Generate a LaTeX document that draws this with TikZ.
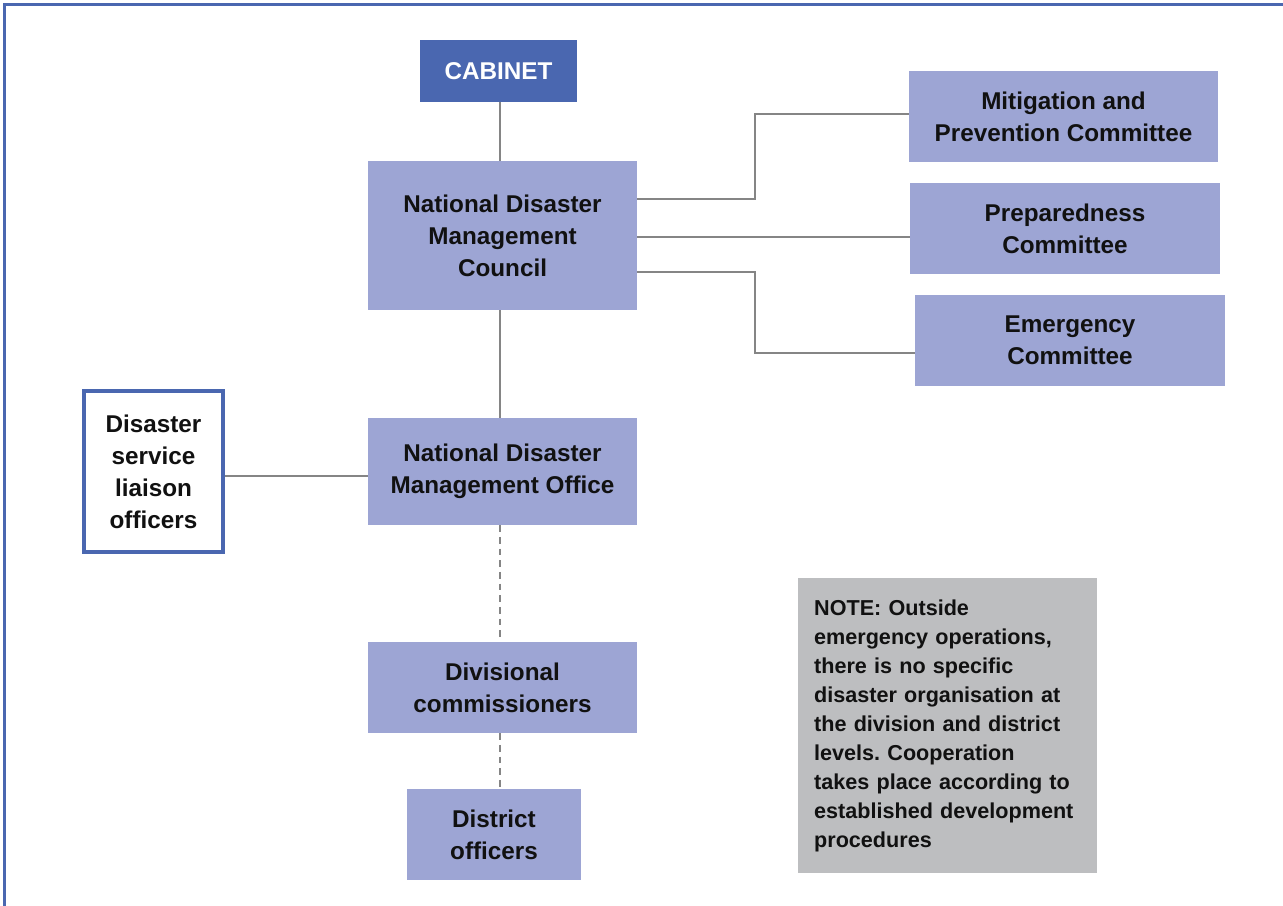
\documentclass[tikz,border=0pt]{standalone}
\usepackage{fontspec}
\setmainfont{Liberation Sans}
\usetikzlibrary{calc}
\definecolor{darkblue}{HTML}{4A67B0}
\definecolor{lightblue}{HTML}{9DA5D4}
\definecolor{notegray}{HTML}{BDBEC0}
\definecolor{linegray}{HTML}{858585}
\definecolor{txt}{HTML}{111111}
\frenchspacing
\tikzset{
  box/.style={fill=lightblue, draw=none, text=txt, align=center, inner sep=0pt,
    font=\fontsize{18.2}{24}\selectfont\bfseries},
  topbox/.style={fill=darkblue, draw=none, text=white, align=center, inner sep=0pt,
    font=\fontsize{18.2}{24}\selectfont\bfseries},
  outlinebox/.style={fill=white, draw=darkblue, line width=3pt, text=txt, align=center, inner sep=0pt,
    font=\fontsize{18.2}{24}\selectfont\bfseries},
  notebox/.style={fill=notegray, draw=none, text=txt, align=left, inner sep=0pt,
    font=\fontsize{16.2}{21.75}\selectfont\bfseries},
  conn/.style={draw=linegray, line width=1.5pt},
  dconn/.style={draw=linegray, line width=1.5pt, dash pattern=on 5pt off 3.75pt},
  frame/.style={draw=darkblue, line width=2.25pt}
}
\begin{document}
\begin{tikzpicture}[x=0.75pt,y=-0.75pt]
\useasboundingbox (0,0) rectangle (1283,906);
\draw[frame] (4.8,906) -- (4.8,4.8) -- (1283,4.8);

\node[topbox, minimum width=117.75pt, minimum height=46.5pt] (cab) at (498.5,71) {CABINET};
\node[box, minimum width=201.75pt, minimum height=111.75pt] (ndmc) at (502.5,235.5) {National Disaster\\Management\\Council};
\node[box, minimum width=231.75pt, minimum height=68.25pt] (mit) at (1063.5,116.5) {Mitigation and\\Prevention Committee};
\node[box, minimum width=232.5pt, minimum height=68.25pt] (prep) at (1065,228.5) {Preparedness\\Committee};
\node[box, minimum width=232.5pt, minimum height=68.25pt] (emer) at (1070,340.5) {Emergency\\Committee};
\node[box, minimum width=201.75pt, minimum height=80.25pt] (ndmo) at (502.5,471.5) {National Disaster\\Management Office};
\node[outlinebox, minimum width=104.25pt, minimum height=120.75pt] (lia) at (153.5,471.5) {Disaster\\service\\liaison\\officers};
\node[box, minimum width=201.75pt, minimum height=68.25pt] (div) at (502.5,687.5) {Divisional\\commissioners};
\node[box, minimum width=130.5pt, minimum height=68.25pt] (dist) at (494,834.5) {District\\officers};
\node[notebox, minimum width=224.25pt, minimum height=221.25pt, text width=200pt] (note) at (947.5,725.5)
  {NOTE: Outside\\emergency operations,\\there is no specific\\disaster organisation at\\the division and district\\levels. Cooperation\\takes place according to\\established development\\procedures};

\coordinate (pm) at ($(ndmc.east)+(0,-36.5)$);
\coordinate (pp) at ($(ndmc.east)+(0,1.5)$);
\coordinate (pe) at ($(ndmc.east)+(0,36.5)$);
\coordinate (mw) at ($(mit.west)+(0,-2.5)$);
\coordinate (ew) at ($(emer.west)+(0,12.5)$);
\coordinate (pl) at ($(lia.east)+(0,4.5)$);

\draw[conn] (cab.south -| 500,0) -- (ndmc.north -| 500,0);
\draw[conn] (pm) -- ++(118,0) |- (mw);
\draw[conn] (pp) -- (pp -| prep.west);
\draw[conn] (pe) -- ++(118,0) |- (ew);
\draw[conn] (ndmc.south -| 500,0) -- (ndmo.north -| 500,0);
\draw[conn] (pl) -- (pl -| ndmo.west);
\draw[dconn] (ndmo.south -| 500,0) -- (div.north -| 500,0);
\draw[dconn] (div.south -| 500,0) -- (dist.north -| 500,0);
\end{tikzpicture}
\end{document}
